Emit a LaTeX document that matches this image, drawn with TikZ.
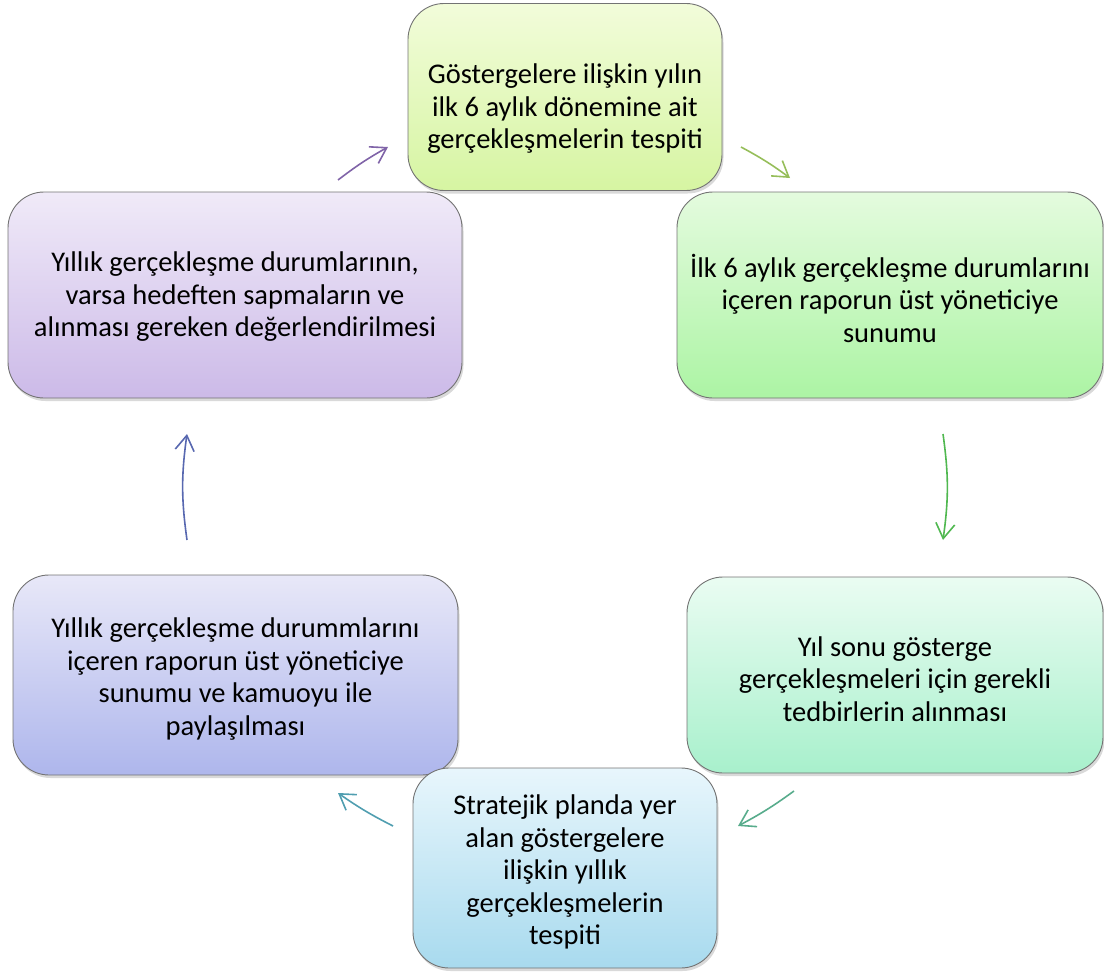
\documentclass[tikz,border=0pt]{standalone}
\usepackage{fontspec}
\setmainfont{Carlito}
\usetikzlibrary{arrows.meta,shadows}

% box fills (top / bottom of each gradient)
\definecolor{limeT}{RGB}{242,252,218}
\definecolor{limeB}{RGB}{214,245,162}
\definecolor{greenT}{RGB}{228,251,222}
\definecolor{greenB}{RGB}{172,244,164}
\definecolor{mintT}{RGB}{234,252,242}
\definecolor{mintB}{RGB}{168,240,204}
\definecolor{skyT}{RGB}{232,246,252}
\definecolor{skyB}{RGB}{168,218,238}
\definecolor{periT}{RGB}{232,232,248}
\definecolor{periB}{RGB}{174,182,236}
\definecolor{lilacT}{RGB}{240,234,248}
\definecolor{lilacB}{RGB}{204,186,232}
% arrow colours
\definecolor{arPurple}{RGB}{128,100,168}
\definecolor{arLime}{RGB}{150,190,90}
\definecolor{arGreen}{RGB}{80,184,80}
\definecolor{arTeal}{RGB}{88,172,140}
\definecolor{arCyan}{RGB}{80,158,176}
\definecolor{arBlue}{RGB}{88,104,176}

\begin{document}
\begin{tikzpicture}[x=1pt,y=-1pt,
  box/.style={rectangle, rounded corners=36pt, draw=black!55, line width=0.9pt,
    inner sep=0pt,
    drop shadow={shadow xshift=1.5pt, shadow yshift=-3pt, opacity=0.3}},
  lbl/.style={align=center, inner sep=0pt, text=black,
    font=\fontsize{28.5}{32.5}\selectfont},
  flow/.style={line width=1.6pt,
    -{Straight Barb[length=15pt,width=19pt,line width=1.6pt]}},
]
\useasboundingbox (0,0) rectangle (1104,974);

% cycle steps: box, then its text
\node[box, minimum width=314pt, minimum height=187pt, top color=limeT, bottom color=limeB]
  (s1) at (565,97) {};
\node[lbl] (t1) at ([yshift=-12pt]s1.center)
  {Göstergelere ilişkin yılın\\ilk 6 aylık dönemine ait\\gerçekleşmelerin tespiti};

\node[box, minimum width=426pt, minimum height=206pt, top color=greenT, bottom color=greenB]
  (s2) at (890,295) {};
\node[lbl] (t2) at ([yshift=-3pt]s2.center)
  {İlk 6 aylık gerçekleşme durumlarını\\içeren raporun üst yöneticiye\\sunumu};

\node[box, minimum width=416pt, minimum height=196pt, top color=mintT, bottom color=mintB]
  (s3) at (895,675) {};
\node[lbl] (t3) at ([yshift=-4pt]s3.center)
  {Yıl sonu gösterge\\gerçekleşmeleri için gerekli\\tedbirlerin alınması};

\node[box, minimum width=445pt, minimum height=200pt, top color=periT, bottom color=periB]
  (s5) at (235.5,675) {};
\node[lbl] (t5) at ([yshift=-4pt]s5.center)
  {Yıllık gerçekleşme durummlarını\\içeren raporun üst yöneticiye\\sunumu ve kamuoyu ile\\paylaşılması};

\node[box, minimum width=304pt, minimum height=200pt, top color=skyT, bottom color=skyB]
  (s4) at (565,868) {};
\node[lbl] (t4) at ([yshift=-4pt]s4.center)
  {Stratejik planda yer\\alan göstergelere\\ilişkin yıllık\\gerçekleşmelerin\\tespiti};

\node[box, minimum width=454pt, minimum height=206pt, top color=lilacT, bottom color=lilacB]
  (s6) at (235,295) {};
\node[lbl] (t6) at ([yshift=-2pt]s6.center)
  {Yıllık gerçekleşme durumlarının,\\varsa hedeften sapmaların ve\\alınması gereken değerlendirilmesi};

% arrow end points on the cycle
\coordinate (a1s) at (338,180); \coordinate (a1e) at (388,147);
\coordinate (a2s) at (741,147); \coordinate (a2e) at (790,178);
\coordinate (a3s) at (943,434); \coordinate (a3e) at (943,540);
\coordinate (a4s) at (794,791); \coordinate (a4e) at (738,826);
\coordinate (a5s) at (393,826); \coordinate (a5e) at (338,793);
\coordinate (a6s) at (187,540); \coordinate (a6e) at (187,434);

\draw[flow, arPurple] (a1s) to[bend left=4] (a1e);
\draw[flow, arLime]   (a2s) to[bend left=4] (a2e);
\draw[flow, arGreen]  (a3s) to[bend left=8] (a3e);
\draw[flow, arTeal]   (a4s) to[bend left=4] (a4e);
\draw[flow, arCyan]   (a5s) to[bend left=4] (a5e);
\draw[flow, arBlue]   (a6s) to[bend left=8] (a6e);
\end{tikzpicture}
\end{document}
